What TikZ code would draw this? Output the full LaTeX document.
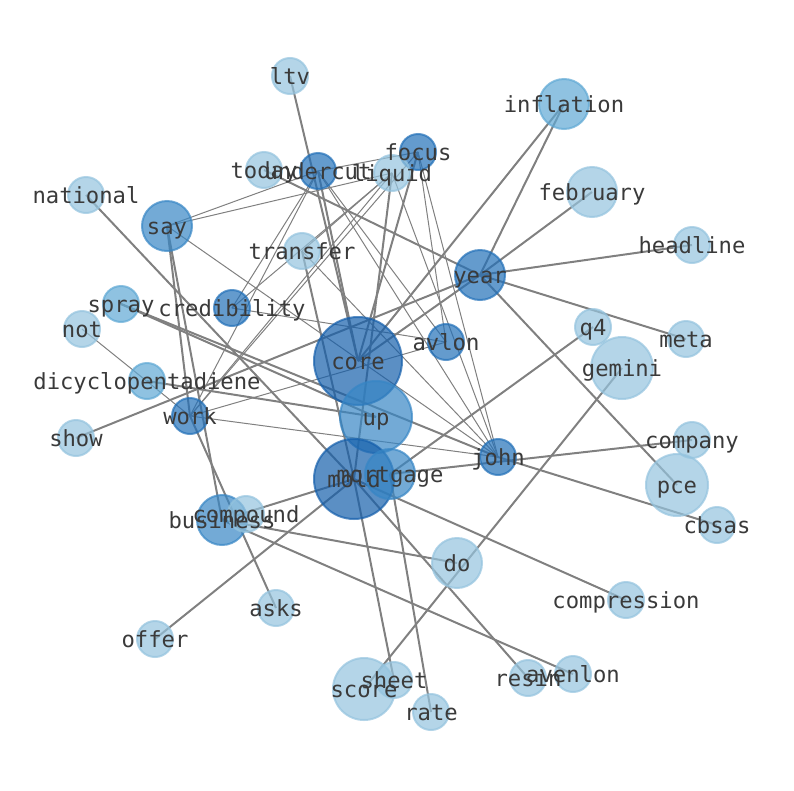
\documentclass[tikz,border=0pt]{standalone}
\usepackage{fontspec}
\newfontfamily\labfont{DejaVu Sans Mono}
\pgfdeclarelayer{bg}
\pgfsetlayers{bg,main}
\definecolor{cA}{HTML}{155FAB}
\definecolor{cB}{HTML}{2270B8}
\definecolor{cC}{HTML}{3786C5}
\definecolor{cD}{HTML}{5FA8D4}
\definecolor{cE}{HTML}{94C3DE}
\definecolor{txt}{HTML}{3A3A3A}
\definecolor{edg}{HTML}{808080}
\tikzset{
  vx/.style={circle,inner sep=0pt,minimum size=#1,fill opacity=0.7,draw opacity=0.7,line width=2pt},
  lab/.style={anchor=mid,yshift=-6pt,inner sep=0pt,text=txt,font=\labfont\fontsize{22.2}{26}\selectfont},
  thick edge/.style={draw=edg,line width=2pt},
  thin edge/.style={draw=edg,line width=1pt}
}
\begin{document}
\begin{tikzpicture}[x=1pt,y=-1pt]
\useasboundingbox (0,0) rectangle (794,790);
% nodes
\node[vx=36,fill=cE,draw=cE] (ltv) at (290,76) {};
\node[vx=50,fill=cD,draw=cD] (inflation) at (564,104) {};
\node[vx=36,fill=cB,draw=cB] (focus) at (418,152) {};
\node[vx=36,fill=cE,draw=cE] (today) at (264,170) {};
\node[vx=36,fill=cB,draw=cB] (undercut) at (318,171) {};
\node[vx=36,fill=cE,draw=cE] (liquid) at (392,173) {};
\node[vx=36,fill=cE,draw=cE] (national) at (86,195) {};
\node[vx=50,fill=cE,draw=cE] (february) at (592,192) {};
\node[vx=50,fill=cC,draw=cC] (say) at (167,226) {};
\node[vx=36,fill=cE,draw=cE] (transfer) at (302,251) {};
\node[vx=36,fill=cE,draw=cE] (headline) at (692,245) {};
\node[vx=50,fill=cB,draw=cB] (year) at (480,275) {};
\node[vx=36,fill=cD,draw=cD] (spray) at (121,304) {};
\node[vx=36,fill=cB,draw=cB] (credibility) at (232,308) {};
\node[vx=36,fill=cE,draw=cE] (not) at (82,329) {};
\node[vx=36,fill=cE,draw=cE] (q4) at (593,327) {};
\node[vx=36,fill=cE,draw=cE] (meta) at (686,339) {};
\node[vx=88,fill=cA,draw=cA] (core) at (358,361) {};
\node[vx=36,fill=cB,draw=cB] (avlon) at (446,342) {};
\node[vx=62,fill=cE,draw=cE] (gemini) at (622,368) {};
\node[vx=36,fill=cD,draw=cD] (dicyclopentadiene) at (147,381) {};
\node[vx=72,fill=cC,draw=cC] (up) at (376,417) {};
\node[vx=36,fill=cB,draw=cB] (work) at (190,416) {};
\node[vx=36,fill=cE,draw=cE] (show) at (76,438) {};
\node[vx=36,fill=cE,draw=cE] (company) at (692,440) {};
\node[vx=36,fill=cB,draw=cB] (john) at (498,457) {};
\node[vx=80,fill=cA,draw=cA] (mold) at (354,479) {};
\node[vx=50,fill=cC,draw=cC] (mortgage) at (390,474) {};
\node[vx=62,fill=cE,draw=cE] (pce) at (677,485) {};
\node[vx=50,fill=cC,draw=cC] (business) at (222,520) {};
\node[vx=36,fill=cE,draw=cE] (compound) at (246,514) {};
\node[vx=36,fill=cE,draw=cE] (cbsas) at (717,525) {};
\node[vx=50,fill=cE,draw=cE] (do) at (457,563) {};
\node[vx=36,fill=cE,draw=cE] (compression) at (626,600) {};
\node[vx=36,fill=cE,draw=cE] (asks) at (276,608) {};
\node[vx=36,fill=cE,draw=cE] (offer) at (155,639) {};
\node[vx=62,fill=cE,draw=cE] (score) at (364,689) {};
\node[vx=36,fill=cE,draw=cE] (sheet) at (394,680) {};
\node[vx=36,fill=cE,draw=cE] (resin) at (528,678) {};
\node[vx=36,fill=cE,draw=cE] (avenlon) at (573,674) {};
\node[vx=36,fill=cE,draw=cE] (rate) at (431,712) {};
% edges
\begin{pgfonlayer}{bg}
\foreach \a/\b in {ltv/core,inflation/core,inflation/year,february/year,headline/year,meta/year,year/pce,today/year,show/year,core/year,q4/mortgage,gemini/score,mortgage/company,spray/john,john/cbsas,spray/up,dicyclopentadiene/up,national/mold,work/asks,say/work,say/business,mold/business,mold/offer,transfer/mold,mold/sheet,mold/resin,mold/compression,business/do,business/avenlon,mortgage/rate,liquid/mold,focus/core,undercut/core}
  \draw[thick edge] (\a.center) -- (\b.center);
\foreach \a/\b in {say/undercut,say/liquid,say/john,undercut/work,undercut/credibility,undercut/avlon,undercut/john,undercut/focus,liquid/work,liquid/credibility,liquid/transfer,liquid/john,focus/avlon,focus/john,focus/work,work/avlon,work/john,credibility/avlon,not/work,transfer/john}
  \draw[thin edge] (\a.center) -- (\b.center);
\end{pgfonlayer}
% labels
\foreach \n in {ltv,inflation,focus,today,undercut,liquid,national,february,say,transfer,headline,year,spray,credibility,not,q4,meta,core,avlon,gemini,dicyclopentadiene,up,work,show,company,john,mold,mortgage,pce,business,compound,cbsas,do,compression,asks,offer,score,sheet,resin,avenlon,rate}
  \node[lab] (\n-t) at (\n.center) {\n};
\end{tikzpicture}
\end{document}
